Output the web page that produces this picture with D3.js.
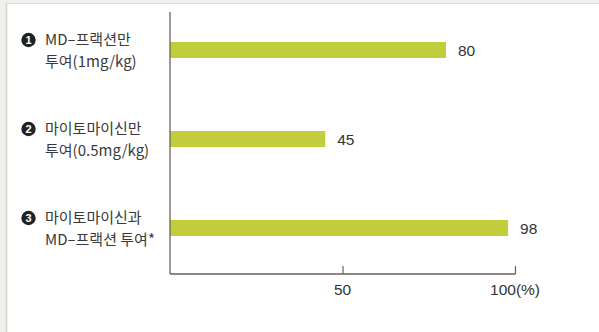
<!DOCTYPE html>
<html><head><meta charset="utf-8">
<script src="https://cdn.jsdelivr.net/npm/d3@7"></script>
<style>html,body{margin:0;padding:0;background:#fff;}svg{display:block;}</style>
</head><body>
<svg id="c" width="599" height="332"></svg>
<script>
const categories = ["1", "2", "3"];
const labelLine1 = ["MD–프랙션만", "마이토마이신만", "마이토마이신과"];
const labelLine2 = ["투여(1mg/kg)", "투여(0.5mg/kg)", "MD–프랙션 투여*"];
const values = [80, 45, 98];
const tickValues = [50, 100];
const tickLabels = ["50", "100(%)"];

const svg = d3.select("#c");
svg.append("rect").attr("x",0).attr("y",0).attr("width",599).attr("height",332).attr("fill","#fff");
svg.append("rect").attr("x",0).attr("y",0).attr("width",6).attr("height",332).attr("fill","#f1f0ec");
svg.append("rect").attr("x",0).attr("y",0).attr("width",599).attr("height",3).attr("fill","#f1f0ec");
svg.append("line").attr("x1",6.5).attr("x2",6.5).attr("y1",3).attr("y2",332).attr("stroke","#d2d2d0").attr("stroke-width",1.5);
svg.append("line").attr("x1",6).attr("x2",599).attr("y1",3.5).attr("y2",3.5).attr("stroke","#dcdcda").attr("stroke-width",1);

const x0 = 170, x1 = 515, yTop = 12, yAxis = 274;
const x = d3.scaleLinear().domain([0,100]).range([x0,x1]);
const y = d3.scalePoint().domain(categories).range([50,228]);
const barH = 16;
const axisColor = "#6e5f5a";

svg.selectAll("rect.bar").data(values).enter().append("rect")
  .attr("class","bar")
  .attr("x", x(0))
  .attr("y", (d,i)=>y(categories[i]) - barH/2)
  .attr("width", d=>x(d)-x(0))
  .attr("height", barH)
  .attr("fill","#c1cd3a");

svg.selectAll("text.val").data(values).enter().append("text")
  .attr("class","val")
  .attr("x", d=>x(d)+12)
  .attr("y", (d,i)=>y(categories[i]))
  .attr("dy","0.36em")
  .attr("font-family","Liberation Sans, Arial, sans-serif")
  .attr("font-size",15.5)
  .attr("fill","#333")
  .text(d=>d);

svg.append("line").attr("x1",x0).attr("x2",x0).attr("y1",yTop).attr("y2",yAxis)
  .attr("stroke",axisColor).attr("stroke-width",1.3);
const xAxis = d3.axisTop(x).tickValues(tickValues).tickSize(8).tickFormat(()=>"");
const gx = svg.append("g").attr("transform",`translate(0,${yAxis})`).call(xAxis);
gx.select(".domain").remove();
gx.selectAll(".tick line").attr("stroke",axisColor).attr("stroke-width",1.2);
svg.append("line").attr("x1",x0).attr("x2",x1+0.6).attr("y1",yAxis).attr("y2",yAxis)
  .attr("stroke",axisColor).attr("stroke-width",1.3);
svg.selectAll("text.tick").data(tickValues).enter().append("text")
  .attr("x", d=>x(d)).attr("y", 295)
  .attr("text-anchor","middle")
  .attr("font-family","Liberation Sans, Arial, sans-serif")
  .attr("font-size",15.5).attr("fill","#333")
  .text((d,i)=>tickLabels[i]);

const kfont = "'Noto Sans CJK KR', sans-serif";
const g = svg.selectAll("g.lab").data(categories).enter().append("g").attr("class","lab")
  .attr("transform",(d)=>`translate(0,${y(d)})`);
g.append("circle").attr("cx",28.5).attr("cy",-10).attr("r",7.2).attr("fill","#222");
g.append("text").attr("x",28.5).attr("y",-10).attr("dy","0.36em").attr("text-anchor","middle")
  .attr("font-family","Liberation Sans, Arial, sans-serif").attr("font-weight","bold")
  .attr("font-size",11).attr("fill","#fff").text(d=>d);
g.append("text").attr("x",45).attr("y",-10).attr("dy","0.36em")
  .attr("font-family",kfont).attr("font-size",15).attr("fill","#3a3a3a")
  .text((d,i)=>labelLine1[i]);
g.append("text").attr("x",45).attr("y",12).attr("dy","0.36em")
  .attr("font-family",kfont).attr("font-size",15).attr("fill","#3a3a3a")
  .text((d,i)=>labelLine2[i]);
</script>
</body></html>
